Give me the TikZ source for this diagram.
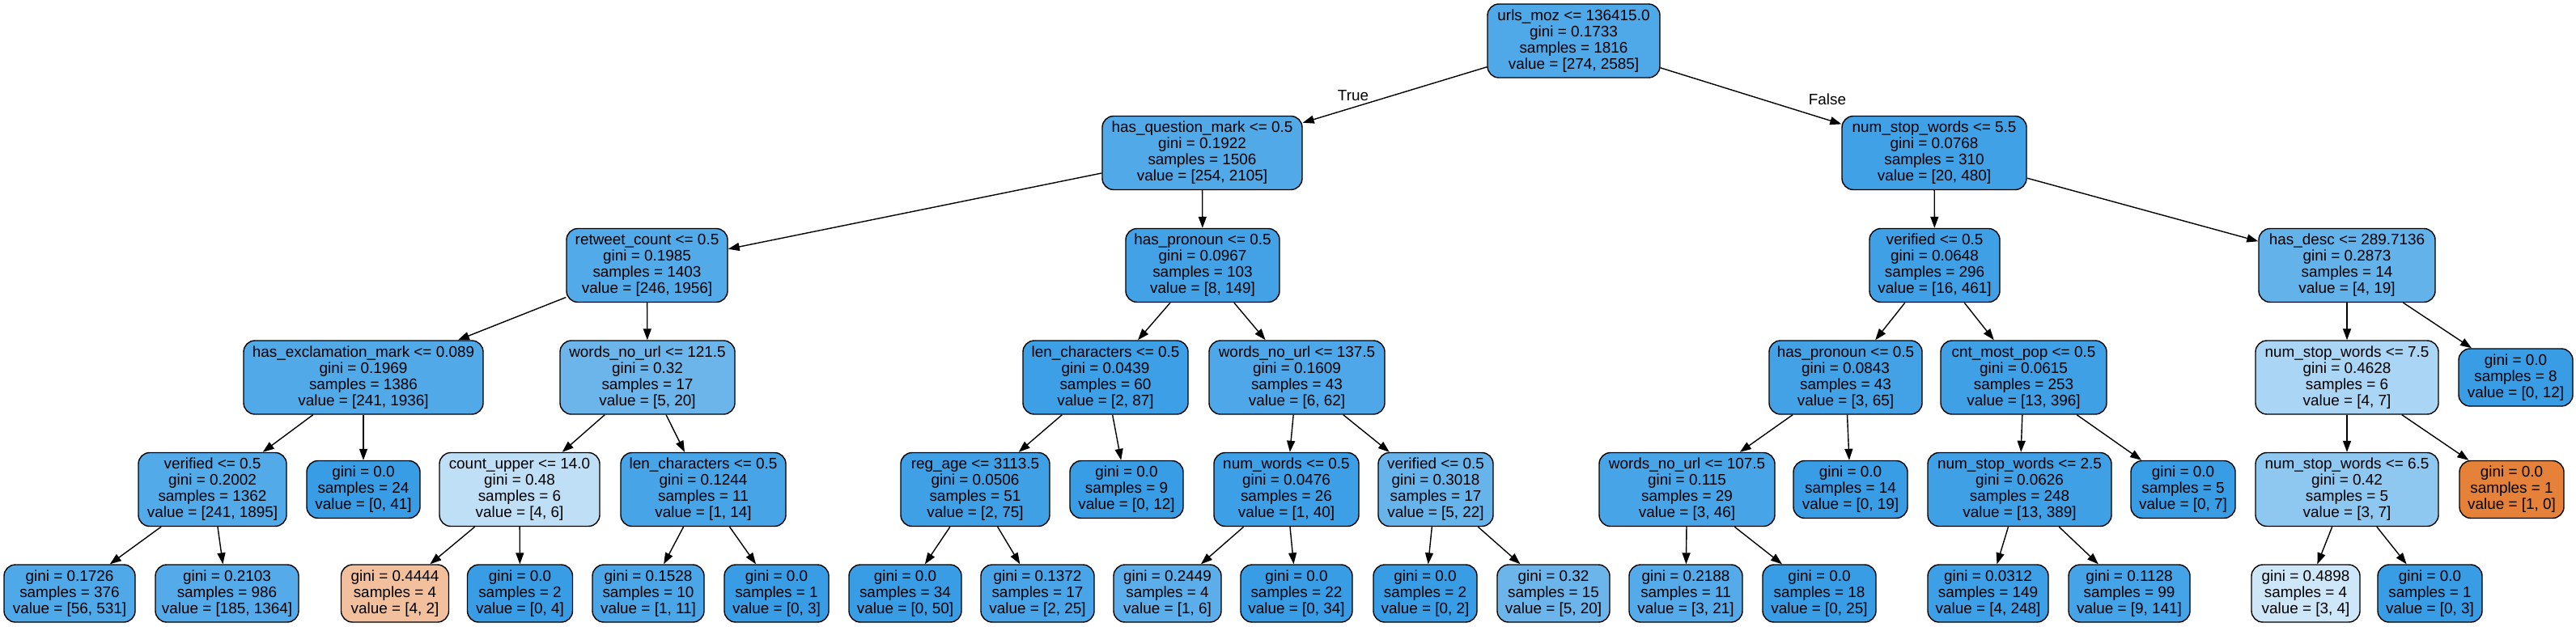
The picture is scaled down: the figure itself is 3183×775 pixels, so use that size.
\documentclass[tikz,border=0pt]{standalone}
\usepackage{fontspec}
\setmainfont{Liberation Sans}
\usetikzlibrary{arrows.meta}
\definecolor{tb}{RGB}{57,157,229}
\definecolor{to}{RGB}{229,129,57}
\tikzset{
  tn/.style={draw=black, line width=1.4pt, rounded corners=14pt, align=center, inner sep=2pt,
    font=\fontsize{18.9}{20}\selectfont},
  nf/.style={tn, minimum height=91pt},
  nt/.style={tn, minimum height=71pt},
  edge/.style={-{Triangle[length=14pt,width=10pt]}, line width=1.4pt, draw=black},
  lbl/.style={font=\fontsize{18.9}{20}\selectfont, inner sep=0pt}
}
\begin{document}
\begin{tikzpicture}[x=1pt,y=-1pt]
\fill[white] (0,0) rectangle (3183,775);
\useasboundingbox (0,0) rectangle (3183,775);
% rank 0
\node[nf, fill=tb!89!white, minimum width=213pt] (root) at (1944.5,50.5) {urls\_moz <= 136415.0\\gini = 0.1733\\samples = 1816\\value = [274, 2585]};
% rank 1
\node[nf, fill=tb!88!white, minimum width=247pt] (hqm) at (1485.5,189) {has\_question\_mark <= 0.5\\gini = 0.1922\\samples = 1506\\value = [254, 2105]};
\node[nf, fill=tb!96!white, minimum width=228pt] (nswa) at (2390,189) {num\_stop\_words <= 5.5\\gini = 0.0768\\samples = 310\\value = [20, 480]};
% rank 2
\node[nf, fill=tb!87!white, minimum width=199pt] (rtc) at (799.5,328) {retweet\_count <= 0.5\\gini = 0.1985\\samples = 1403\\value = [246, 1956]};
\node[nf, fill=tb!95!white, minimum width=190pt] (hpa) at (1486,328) {has\_pronoun <= 0.5\\gini = 0.0967\\samples = 103\\value = [8, 149]};
\node[nf, fill=tb!97!white, minimum width=161pt] (vera) at (2390.5,328) {verified <= 0.5\\gini = 0.0648\\samples = 296\\value = [16, 461]};
\node[nf, fill=tb!79!white, minimum width=218pt] (hdesc) at (2900,328) {has\_desc <= 289.7136\\gini = 0.2873\\samples = 14\\value = [4, 19]};
% rank 3
\node[nf, fill=tb!88!white, minimum width=296pt] (hexcl) at (449,466.5) {has\_exclamation\_mark <= 0.089\\gini = 0.1969\\samples = 1386\\value = [241, 1936]};
\node[nf, fill=tb!75!white, minimum width=216pt] (wnua) at (800,466.5) {words\_no\_url <= 121.5\\gini = 0.32\\samples = 17\\value = [5, 20]};
\node[nf, fill=tb!98!white, minimum width=204pt] (lca) at (1366,466.5) {len\_characters <= 0.5\\gini = 0.0439\\samples = 60\\value = [2, 87]};
\node[nf, fill=tb!90!white, minimum width=217pt] (wnub) at (1602.5,466.5) {words\_no\_url <= 137.5\\gini = 0.1609\\samples = 43\\value = [6, 62]};
\node[nf, fill=tb!95!white, minimum width=189pt] (hpb) at (2280.5,466.5) {has\_pronoun <= 0.5\\gini = 0.0843\\samples = 43\\value = [3, 65]};
\node[nf, fill=tb!97!white, minimum width=205pt] (cmp) at (2500.5,466.5) {cnt\_most\_pop <= 0.5\\gini = 0.0615\\samples = 253\\value = [13, 396]};
\node[nf, fill=tb!43!white, minimum width=226pt] (nswb) at (2900,466.5) {num\_stop\_words <= 7.5\\gini = 0.4628\\samples = 6\\value = [4, 7]};
\node[nt, fill=tb, minimum width=141pt] (leight) at (3108.5,466.5) {gini = 0.0\\samples = 8\\value = [0, 12]};
% rank 4
\node[nf, fill=tb!87!white, minimum width=183pt] (verb) at (262.5,605) {verified <= 0.5\\gini = 0.2002\\samples = 1362\\value = [241, 1895]};
\node[nt, fill=tb, minimum width=140pt] (lff) at (449,605) {gini = 0.0\\samples = 24\\value = [0, 41]};
\node[nf, fill=tb!33!white, minimum width=198pt] (cup) at (642,605) {count\_upper <= 14.0\\gini = 0.48\\samples = 6\\value = [4, 6]};
\node[nf, fill=tb!93!white, minimum width=204pt] (lcb) at (869,605) {len\_characters <= 0.5\\gini = 0.1244\\samples = 11\\value = [1, 14]};
\node[nf, fill=tb!97!white, minimum width=184pt] (rage) at (1205,605) {reg\_age <= 3113.5\\gini = 0.0506\\samples = 51\\value = [2, 75]};
\node[nt, fill=tb, minimum width=140pt] (lnine) at (1392,605) {gini = 0.0\\samples = 9\\value = [0, 12]};
\node[nf, fill=tb!98!white, minimum width=179pt] (nwd) at (1589.5,605) {num\_words <= 0.5\\gini = 0.0476\\samples = 26\\value = [1, 40]};
\node[nf, fill=tb!77!white, minimum width=142pt] (verc) at (1774,605) {verified <= 0.5\\gini = 0.3018\\samples = 17\\value = [5, 22]};
\node[nf, fill=tb!93!white, minimum width=217pt] (wnuc) at (2084.5,605) {words\_no\_url <= 107.5\\gini = 0.115\\samples = 29\\value = [3, 46]};
\node[nt, fill=tb, minimum width=141pt] (lft) at (2286.5,605) {gini = 0.0\\samples = 14\\value = [0, 19]};
\node[nf, fill=tb!97!white, minimum width=227pt] (nswc) at (2495.5,605) {num\_stop\_words <= 2.5\\gini = 0.0626\\samples = 248\\value = [13, 389]};
\node[nt, fill=tb, minimum width=129pt] (lfive) at (2697.5,605) {gini = 0.0\\samples = 5\\value = [0, 7]};
\node[nf, fill=tb!57!white, minimum width=226pt] (nswd) at (2900,605) {num\_stop\_words <= 6.5\\gini = 0.42\\samples = 5\\value = [3, 7]};
\node[nt, fill=to, minimum width=129pt] (lor) at (3103.5,605) {gini = 0.0\\samples = 1\\value = [1, 0]};
% rank 5
\node[nt, fill=tb!89!white, minimum width=162pt] (fa) at (86,733.5) {gini = 0.1726\\samples = 376\\value = [56, 531]};
\node[nt, fill=tb!86!white, minimum width=177pt] (fb) at (280.5,733.5) {gini = 0.2103\\samples = 986\\value = [185, 1364]};
\node[nt, fill=to!50!white, minimum width=133pt] (fc) at (488,733.5) {gini = 0.4444\\samples = 4\\value = [4, 2]};
\node[nt, fill=tb, minimum width=130pt] (fd) at (642.5,733.5) {gini = 0.0\\samples = 2\\value = [0, 4]};
\node[nt, fill=tb!91!white, minimum width=138pt] (fe) at (801,733.5) {gini = 0.1528\\samples = 10\\value = [1, 11]};
\node[nt, fill=tb, minimum width=129pt] (ff) at (959.5,733.5) {gini = 0.0\\samples = 1\\value = [0, 3]};
\node[nt, fill=tb, minimum width=139pt] (fg) at (1118.5,733.5) {gini = 0.0\\samples = 34\\value = [0, 50]};
\node[nt, fill=tb!92!white, minimum width=140pt] (fh) at (1282,733.5) {gini = 0.1372\\samples = 17\\value = [2, 25]};
\node[nt, fill=tb!83!white, minimum width=133pt] (fi) at (1442.5,733.5) {gini = 0.2449\\samples = 4\\value = [1, 6]};
\node[nt, fill=tb, minimum width=138pt] (fj) at (1602,733.5) {gini = 0.0\\samples = 22\\value = [0, 34]};
\node[nt, fill=tb, minimum width=128pt] (fk) at (1761,733.5) {gini = 0.0\\samples = 2\\value = [0, 2]};
\node[nt, fill=tb!75!white, minimum width=139pt] (fl) at (1919.5,733.5) {gini = 0.32\\samples = 15\\value = [5, 20]};
\node[nt, fill=tb!86!white, minimum width=140pt] (fm) at (2083,733.5) {gini = 0.2188\\samples = 11\\value = [3, 21]};
\node[nt, fill=tb, minimum width=140pt] (fn) at (2248,733.5) {gini = 0.0\\samples = 18\\value = [0, 25]};
\node[nt, fill=tb!98!white, minimum width=149pt] (fo) at (2456.5,733.5) {gini = 0.0312\\samples = 149\\value = [4, 248]};
\node[nt, fill=tb!94!white, minimum width=150pt] (fp) at (2631,733.5) {gini = 0.1128\\samples = 99\\value = [9, 141]};
\node[nt, fill=tb!25!white, minimum width=134pt] (fq) at (2849,733.5) {gini = 0.4898\\samples = 4\\value = [3, 4]};
\node[nt, fill=tb, minimum width=129pt] (fr) at (3002.5,733.5) {gini = 0.0\\samples = 1\\value = [0, 3]};
% edges
\draw[edge] (root) -- (hqm);
\draw[edge] (root) -- (nswa);
\draw[edge] (hqm) -- (rtc);
\draw[edge] (hqm) -- (hpa);
\draw[edge] (nswa) -- (vera);
\draw[edge] (nswa) -- (hdesc);
\draw[edge] (rtc) -- (hexcl);
\draw[edge] (rtc) -- (wnua);
\draw[edge] (hpa) -- (lca);
\draw[edge] (hpa) -- (wnub);
\draw[edge] (vera) -- (hpb);
\draw[edge] (vera) -- (cmp);
\draw[edge] (hdesc) -- (nswb);
\draw[edge] (hdesc) -- (leight);
\draw[edge] (hexcl) -- (verb);
\draw[edge] (hexcl) -- (lff);
\draw[edge] (wnua) -- (cup);
\draw[edge] (wnua) -- (lcb);
\draw[edge] (lca) -- (rage);
\draw[edge] (lca) -- (lnine);
\draw[edge] (wnub) -- (nwd);
\draw[edge] (wnub) -- (verc);
\draw[edge] (hpb) -- (wnuc);
\draw[edge] (hpb) -- (lft);
\draw[edge] (cmp) -- (nswc);
\draw[edge] (cmp) -- (lfive);
\draw[edge] (nswb) -- (nswd);
\draw[edge] (nswb) -- (lor);
\draw[edge] (verb) -- (fa);
\draw[edge] (verb) -- (fb);
\draw[edge] (cup) -- (fc);
\draw[edge] (cup) -- (fd);
\draw[edge] (lcb) -- (fe);
\draw[edge] (lcb) -- (ff);
\draw[edge] (rage) -- (fg);
\draw[edge] (rage) -- (fh);
\draw[edge] (nwd) -- (fi);
\draw[edge] (nwd) -- (fj);
\draw[edge] (verc) -- (fk);
\draw[edge] (verc) -- (fl);
\draw[edge] (wnuc) -- (fm);
\draw[edge] (wnuc) -- (fn);
\draw[edge] (nswc) -- (fo);
\draw[edge] (nswc) -- (fp);
\draw[edge] (nswd) -- (fq);
\draw[edge] (nswd) -- (fr);
% edge labels
\node[lbl] (ltrue) at (1672,118) {True};
\node[lbl] (lfalse) at (2258,123) {False};
\end{tikzpicture}
\end{document}
